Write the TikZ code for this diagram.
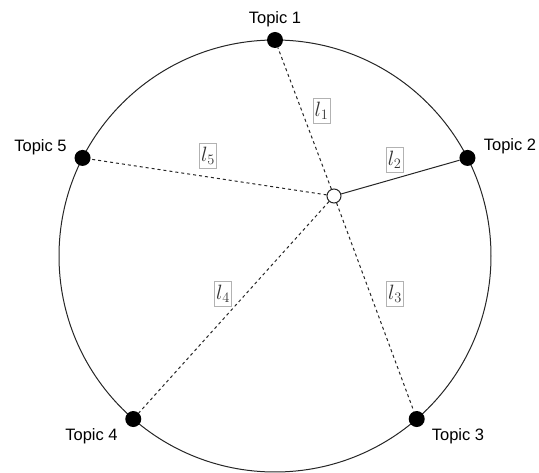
\documentclass[tikz,border=0pt]{standalone}
\usepackage{fontspec}
\newfontfamily\topicfont{Liberation Sans}
\usetikzlibrary{positioning}

\tikzset{
  dot/.style={circle, fill=black, inner sep=0pt, minimum size=16pt},
  hub/.style={circle, draw=black!85, fill=white, line width=1pt, inner sep=0pt, minimum size=14pt},
  topic/.style={font=\topicfont\fontsize{16.5}{19}\selectfont, inner sep=0pt},
  dist/.style={draw=black!30, line width=0.5pt, inner sep=0pt, minimum width=17pt, minimum height=25pt, text=black!80, font=\fontsize{20}{22}\selectfont},
  spoke/.style={black!85, line width=1pt, dash pattern=on 3pt off 3pt},
}

\begin{document}
\begin{tikzpicture}[x=1pt, y=-1pt]
  \useasboundingbox (0,0) rectangle (539,473);
  % ring
  \node[circle, draw=black!85, line width=1pt, inner sep=0pt, outer sep=0pt, minimum size=432pt] (ring) at (275,256) {};
  % topics on the ring
  \node[dot] (t1) at (ring.90) {};
  \node[dot] (t2) at (ring.27) {};
  \node[dot] (t3) at (ring.311) {};
  \node[dot] (t4) at (ring.229) {};
  \node[dot] (t5) at (ring.153) {};
  \node[hub] (c) at (334,196) {};
  % spokes
  \draw[spoke] (c) -- (t1);
  \draw[black!85, line width=1pt] (c) -- (t2);
  \draw[spoke] (c) -- (t3);
  \draw[spoke] (c) -- (t4);
  \draw[spoke] (c) -- (t5);
  % distances
  \node[dist] (l1) at (321.5,111) {$l_1$};
  \node[dist] (l2) at (394.7,160) {$l_2$};
  \node[dist] (l3) at (395,293.5) {$l_3$};
  \node[dist] (l4) at (223,293.5) {$l_4$};
  \node[dist] (l5) at (208,156) {$l_5$};
  % names
  \node[topic] (n1) at (275,19.6) {Topic 1};
  \node[topic] (n2) at (510,146.6) {Topic 2};
  \node[topic] (n3) at (458,436) {Topic 3};
  \node[topic] (n4) at (91.5,436) {Topic 4};
  \node[topic] (n5) at (40.5,147.6) {Topic 5};
\end{tikzpicture}
\end{document}
